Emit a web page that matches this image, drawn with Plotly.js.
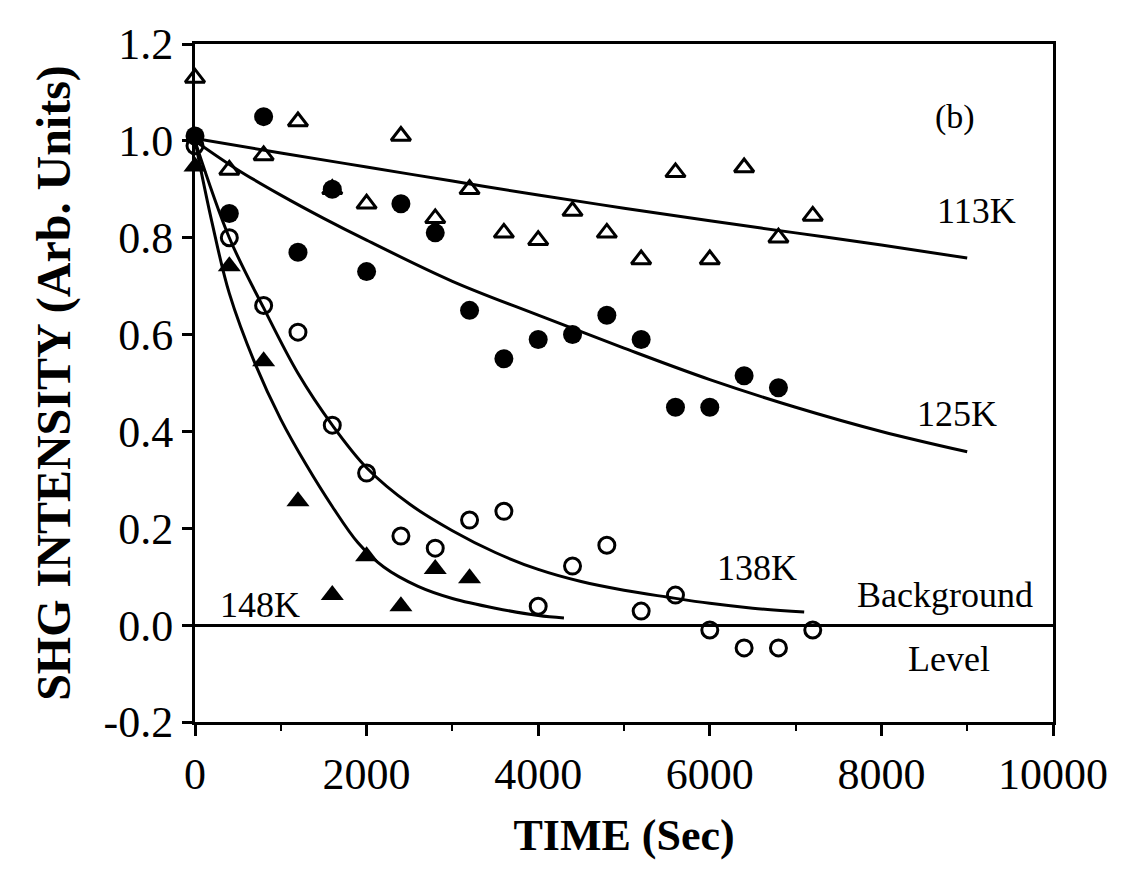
<!DOCTYPE html>
<html>
<head>
<meta charset="utf-8">
<script src="https://cdn.plot.ly/plotly-3.0.1.min.js"></script>
<style>
  html, body { margin: 0; padding: 0; background: #ffffff; }
  #chart { width: 1126px; height: 873px; }
</style>
</head>
<body>
<div id="chart"></div>
<script>
// ---- Measured data (time in seconds, SHG intensity in arb. units) ----
const time113 = [0, 400, 800, 1200, 1600, 2000, 2400, 2800, 3200, 3600, 4000, 4400, 4800, 5200, 5600, 6000, 6400, 6800, 7200];
const shg113  = [1.13, 0.94, 0.97, 1.04, 0.90, 0.87, 1.01, 0.84, 0.90, 0.81, 0.795, 0.855, 0.81, 0.755, 0.935, 0.755, 0.945, 0.80, 0.845];

const time125 = [0, 400, 800, 1200, 1600, 2000, 2400, 2800, 3200, 3600, 4000, 4400, 4800, 5200, 5600, 6000, 6400, 6800];
const shg125  = [1.01, 0.85, 1.05, 0.77, 0.90, 0.73, 0.87, 0.81, 0.65, 0.55, 0.59, 0.60, 0.64, 0.59, 0.45, 0.45, 0.515, 0.49];

const time138 = [0, 400, 800, 1200, 1600, 2000, 2400, 2800, 3200, 3600, 4000, 4400, 4800, 5200, 5600, 6000, 6400, 6800, 7200];
const shg138  = [0.99, 0.80, 0.66, 0.605, 0.413, 0.314, 0.184, 0.159, 0.217, 0.235, 0.039, 0.122, 0.165, 0.029, 0.062, -0.01, -0.047, -0.047, -0.01];

const time148 = [0, 400, 800, 1200, 1600, 2000, 2400, 2800, 3200];
const shg148  = [0.947, 0.741, 0.545, 0.256, 0.062, 0.142, 0.039, 0.116, 0.097];

// ---- Fitted decay curves ----
const fit113X = [0, 1000, 2000, 3000, 4000, 5000, 6000, 7000, 8000, 9000];
const fit113Y = [1.005, 0.975, 0.946, 0.917, 0.888, 0.861, 0.835, 0.81, 0.785, 0.758];

const fit125X = [0, 500, 1000, 1500, 2000, 3000, 4000, 5000, 6000, 7000, 8000, 9000];
const fit125Y = [1.0, 0.94, 0.888, 0.84, 0.795, 0.71, 0.64, 0.572, 0.507, 0.45, 0.40, 0.358];

const fit138X = [0, 400, 800, 1200, 1600, 2000, 2500, 3000, 3500, 4000, 4500, 5000, 5500, 6000, 6500, 7100];
const fit138Y = [1.0, 0.80, 0.655, 0.52, 0.413, 0.325, 0.25, 0.195, 0.15, 0.115, 0.09, 0.072, 0.058, 0.045, 0.035, 0.027];

const fit148X = [0, 200, 400, 700, 1000, 1300, 1600, 1900, 2200, 2600, 3000, 3500, 4000, 4300];
const fit148Y = [1.0, 0.83, 0.685, 0.54, 0.425, 0.33, 0.245, 0.17, 0.12, 0.08, 0.055, 0.035, 0.02, 0.015];

// ---- Axis tick labels ----
const xTickVals = [0, 2000, 4000, 6000, 8000, 10000];
const xTickText = ['0', '2000', '4000', '6000', '8000', '10000'];
const yTickVals = [-0.2, 0, 0.2, 0.4, 0.6, 0.8, 1.0, 1.2];
const yTickText = ['-0.2', '0.0', '0.2', '0.4', '0.6', '0.8', '1.0', '1.2'];

// ---- Labels ----
const xTitle = 'TIME (Sec)';
const yTitle = 'SHG INTENSITY (Arb. Units)';
const panelLabel = '(b)';
const tempLabels = ['113K', '125K', '138K', '148K'];
const labelX = [9110, 8880, 6550, 760];
const labelY = [0.855, 0.435, 0.118, 0.041];
const bgLabels = ['Background', 'Level'];
const bgLabelX = [8740, 8790];
const bgLabelY = [0.062, -0.07];
const panelX = 8860, panelY = 1.05;

const FONT = 'Liberation Serif, Times New Roman, serif';
const BLACK = '#000000';

const lineStyle = {color: BLACK, width: 3, shape: 'spline', smoothing: 1};

const traces = [
  {x: fit113X, y: fit113Y, mode: 'lines', line: lineStyle, hoverinfo: 'skip'},
  {x: fit125X, y: fit125Y, mode: 'lines', line: lineStyle, hoverinfo: 'skip'},
  {x: fit138X, y: fit138Y, mode: 'lines', line: lineStyle, hoverinfo: 'skip'},
  {x: fit148X, y: fit148Y, mode: 'lines', line: lineStyle, hoverinfo: 'skip'},
  {x: time113, y: shg113, mode: 'markers', name: '113K', cliponaxis: false,
   marker: {symbol: 'triangle-up-open', size: 17, color: BLACK, line: {color: BLACK, width: 3}}},
  {x: time125, y: shg125, mode: 'markers', name: '125K', cliponaxis: false,
   marker: {symbol: 'circle', size: 19, color: BLACK, line: {width: 0}}},
  {x: time138, y: shg138, mode: 'markers', name: '138K', cliponaxis: false,
   marker: {symbol: 'circle-open', size: 16, color: BLACK, line: {color: BLACK, width: 3}}},
  {x: time148, y: shg148, mode: 'markers', name: '148K', cliponaxis: false,
   marker: {symbol: 'triangle-up', size: 20, color: BLACK, line: {width: 0}}}
];

const annotations = [];
tempLabels.forEach((t, i) => annotations.push({
  x: labelX[i], y: labelY[i], xref: 'x', yref: 'y', text: t, showarrow: false,
  font: {family: FONT, size: 36, color: BLACK}
}));
bgLabels.forEach((t, i) => annotations.push({
  x: bgLabelX[i], y: bgLabelY[i], xref: 'x', yref: 'y', text: t, showarrow: false,
  font: {family: FONT, size: 36, color: BLACK}
}));
annotations.push({
  x: panelX, y: panelY, xref: 'x', yref: 'y', text: panelLabel, showarrow: false,
  font: {family: FONT, size: 34, color: BLACK}
});

const layout = {
  width: 1126, height: 873,
  margin: {l: 195, r: 73, t: 44, b: 151, pad: 0},
  paper_bgcolor: '#ffffff', plot_bgcolor: '#ffffff',
  showlegend: false,
  font: {family: FONT, color: BLACK},
  xaxis: {
    range: [0, 10000], tickmode: 'array', tickvals: xTickVals, ticktext: xTickText,
    showgrid: false, zeroline: false,
    showline: true, linecolor: BLACK, linewidth: 3, mirror: true,
    ticks: 'outside', ticklen: 11, tickwidth: 3, tickcolor: BLACK,
    minor: {dtick: 1000, tick0: 0, ticks: 'outside', ticklen: 6, tickwidth: 2, tickcolor: BLACK, showgrid: false},
    tickfont: {family: FONT, size: 44, color: BLACK},
    title: {text: xTitle, font: {family: FONT, size: 44, color: BLACK, weight: 'bold'}, standoff: 22}
  },
  yaxis: {
    range: [-0.2, 1.2], tickmode: 'array', tickvals: yTickVals, ticktext: yTickText,
    showgrid: false,
    zeroline: true, zerolinecolor: BLACK, zerolinewidth: 3,
    showline: true, linecolor: BLACK, linewidth: 3, mirror: true,
    ticks: 'outside', ticklen: 10, tickwidth: 3, tickcolor: BLACK,
    tickfont: {family: FONT, size: 44, color: BLACK},
    title: {text: yTitle, font: {family: FONT, size: 48, color: BLACK, weight: 'bold'}, standoff: 18}
  },
  annotations: annotations
};

Plotly.newPlot('chart', traces, layout, {staticPlot: true, displayModeBar: false});
</script>
</body>
</html>
